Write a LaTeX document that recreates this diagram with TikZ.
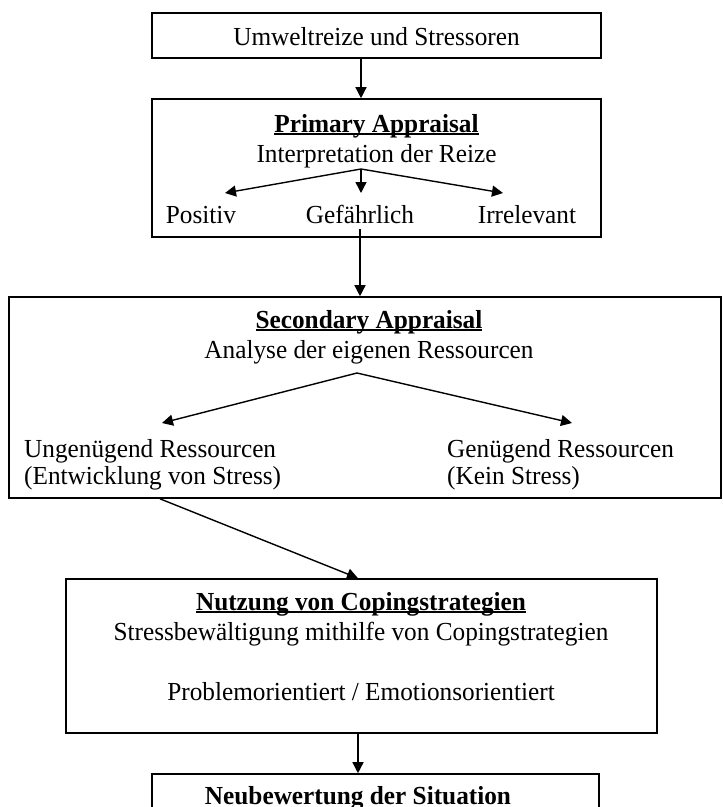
\documentclass[tikz,border=0pt]{standalone}
\usepackage{fontspec}
\setmainfont[FakeStretch=0.972]{Liberation Serif}
\usetikzlibrary{arrows.meta}
\newcommand\ulbar[1]{\leavevmode\setbox0\hbox{#1}\rlap{\rule[-3pt]{\wd0}{1.6pt}}\box0}
\tikzset{
  box/.style={draw, line width=1.6pt, inner sep=0pt},
  txt/.style={anchor=base, inner sep=0pt, font=\fontsize{26}{30}\selectfont},
  txtl/.style={txt, anchor=base west},
  conn/.style={line width=1.4pt, -{Triangle[length=11pt,width=11pt]}},
}
\begin{document}
\begin{tikzpicture}[x=1pt,y=-1pt]
\useasboundingbox (0,0) rectangle (723,807);
\clip (0,0) rectangle (723,807);
% boxes
\node[box, minimum width=449pt, minimum height=45pt]  (b1) at (376.5,35.5) {};
\node[box, minimum width=449pt, minimum height=138pt] (b2) at (376.5,168) {};
\node[box, minimum width=712pt, minimum height=201pt] (b3) at (365,397.5) {};
\node[box, minimum width=591pt, minimum height=154pt] (b4) at (361.5,656) {};
\node[box, minimum width=447pt, minimum height=76pt]  (b5) at (375.5,812) {};
% texts
\node[txt] (t1)  at (376.5,45) {Umweltreize und Stressoren};
\node[txt] (t2a) at (376.5,132) {\ulbar{\textbf{Primary Appraisal}}};
\node[txt] (t2b) at (376.5,162) {Interpretation der Reize};
\node[txt] (pos) at (201,223) {Positiv};
\node[txt] (gef) at (360,223) {Gefährlich};
\node[txt] (irr) at (527,223) {Irrelevant};
\node[txt] (t3a) at (369,328) {\ulbar{\textbf{Secondary Appraisal}}};
\node[txt] (t3b) at (369,358) {Analyse der eigenen Ressourcen};
\node[txtl] (ung1) at (24,457) {Ungenügend Ressourcen};
\node[txtl] (ung2) at (24,484) {(Entwicklung von Stress)};
\node[txtl] (gen1) at (447,457) {Genügend Ressourcen};
\node[txtl] (gen2) at (447,484) {(Kein Stress)};
\node[txt] (t4a) at (361,610) {\ulbar{\textbf{Nutzung von Copingstrategien}}};
\node[txt] (t4b) at (361,640) {Stressbewältigung mithilfe von Copingstrategien};
\node[txt] (t4c) at (361,700) {Problemorientiert / Emotionsorientiert};
\node[txt] (t5)  at (358,804) {\textbf{Neubewertung der Situation}};
% helper coordinates
\coordinate (sp1) at (361,169);
\coordinate (tipP) at (225,193);
\coordinate (tipG) at (361,193);
\coordinate (tipI) at (503,193);
\coordinate (g0) at (360,229);
\coordinate (sp2) at (357,373);
\coordinate (tipU) at (162,423);
\coordinate (tipN) at (572,423);
\coordinate (c1) at (160,0);
\coordinate (c2) at (358,0);
% connectors
\draw[conn] (b1.south -| sp1) -- (b2.north -| sp1);
\draw[conn] (sp1) -- (tipP);
\draw[conn] (sp1) -- (tipG);
\draw[conn] (sp1) -- (tipI);
\draw[conn] (g0) -- (b3.north -| g0);
\draw[conn] (sp2) -- (tipU);
\draw[conn] (sp2) -- (tipN);
\draw[conn] (b3.south -| c1) -- (b4.north -| c2);
\draw[conn] (b4.south -| c2) -- (b5.north -| c2);
\end{tikzpicture}
\end{document}
